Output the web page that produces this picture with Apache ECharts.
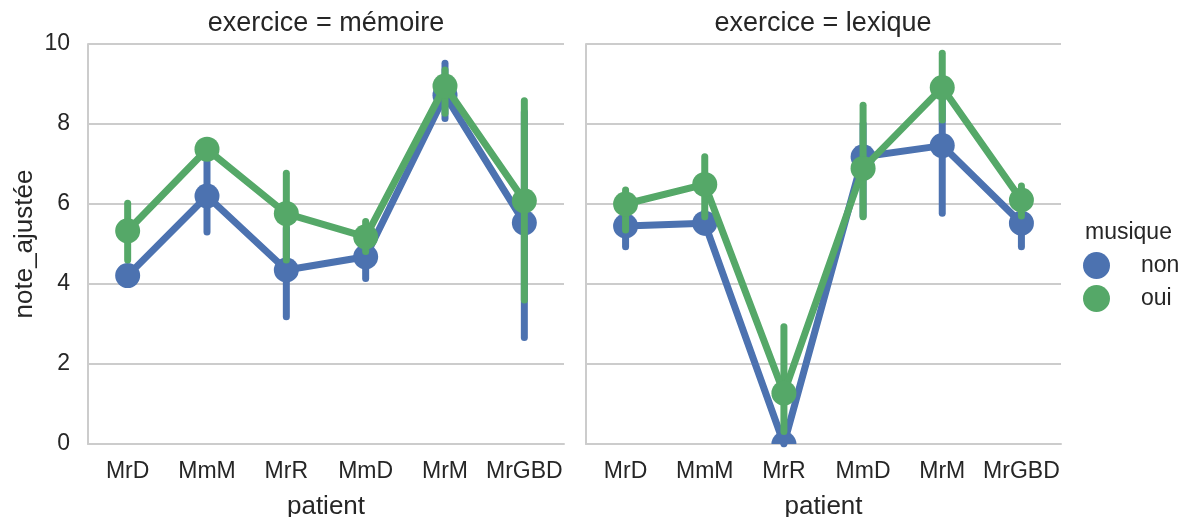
<!DOCTYPE html>
<html>
<head>
<meta charset="utf-8">
<title>note_ajustée par patient</title>
<script src="https://cdn.jsdelivr.net/npm/echarts@6/dist/echarts.min.js"></script>
<style>
  html, body { margin: 0; padding: 0; background: #ffffff; width: 100%; height: 100%; overflow: hidden; }
  #chart { position: absolute; left: 0; top: 0; width: 1183px; height: 517px; }
</style>
</head>
<body>
<div id="chart"></div>
<script>
// Patients on the x axis of both panels
const patients = ['MrD', 'MmM', 'MrR', 'MmD', 'MrM', 'MrGBD'];
const yTicks = [0, 2, 4, 6, 8, 10];

// exercice = mémoire : means and confidence interval bounds
const memoireNon     = [4.21, 6.20, 4.35, 4.68, 8.72, 5.53];
const memoireNonLow  = [4.00, 5.30, 3.18, 4.14, 8.14, 2.66];
const memoireNonHigh = [4.40, 7.10, 5.40, 5.20, 9.52, 8.30];
const memoireOui     = [5.33, 7.37, 5.76, 5.18, 8.95, 6.08];
const memoireOuiLow  = [4.60, 7.20, 4.60, 4.81, 8.27, 3.60];
const memoireOuiHigh = [6.02, 7.50, 6.77, 5.56, 9.35, 8.58];

// exercice = lexique : means and confidence interval bounds
const lexiqueNon     = [5.45, 5.52, 0.00, 7.18, 7.46, 5.52];
const lexiqueNonLow  = [4.93, 5.30, 0.00, 5.70, 5.77, 4.93];
const lexiqueNonHigh = [5.90, 5.80, 0.00, 8.00, 9.00, 6.00];
const lexiqueOui     = [6.00, 6.49, 1.27, 6.89, 8.91, 6.10];
const lexiqueOuiLow  = [5.35, 5.68, 0.31, 5.68, 8.10, 5.70];
const lexiqueOuiHigh = [6.35, 7.18, 2.93, 8.47, 9.77, 6.45];

const panelTitles = ['exercice = mémoire', 'exercice = lexique'];
const hueNames = ['non', 'oui'];

const BLUE = '#4C72B0';
const GREEN = '#55A868';
const TEXT = '#262626';
const GRID = '#cccccc';
const FONT = '"Liberation Sans", Arial, sans-serif';

const chart = echarts.init(document.getElementById('chart'), null, { renderer: 'canvas', width: 1183, height: 517 });

function errorBars(name, idx, lo, hi, color, z) {
  return {
    name, type: 'custom', xAxisIndex: idx, yAxisIndex: idx, z, clip: true,
    data: patients.map((p, i) => [i, lo[i], hi[i]]),
    renderItem: (params, api) => {
      const a = api.coord([api.value(0), api.value(1)]);
      const b = api.coord([api.value(0), api.value(2)]);
      return {
        type: 'line',
        shape: { x1: a[0], y1: a[1], x2: b[0], y2: b[1] },
        style: { stroke: color, lineWidth: 7, lineCap: 'round' }
      };
    }
  };
}

function meanLine(name, idx, values, color, z) {
  return {
    name, type: 'line', xAxisIndex: idx, yAxisIndex: idx, z, clip: true,
    data: values, symbol: 'none', silent: true,
    lineStyle: { color, width: 7, cap: 'round', join: 'round' },
    itemStyle: { color }
  };
}

function meanPoints(name, idx, values, color, z) {
  return {
    name, type: 'custom', xAxisIndex: idx, yAxisIndex: idx, z, clip: true,
    data: values.map((v, i) => [i, v]),
    renderItem: (params, api) => {
      const c = api.coord([api.value(0), api.value(1)]);
      return { type: 'circle', shape: { cx: c[0], cy: c[1], r: 12.5 }, style: { fill: color } };
    }
  };
}

function xAxisDef(gridIndex) {
  return {
    type: 'category', gridIndex, data: patients, boundaryGap: true,
    name: 'patient', nameLocation: 'middle', nameGap: 50,
    nameTextStyle: { fontSize: 26, color: TEXT, fontFamily: FONT },
    axisLine: { show: true, lineStyle: { color: GRID, width: 2 } },
    axisTick: { show: false },
    axisLabel: { fontSize: 23, color: TEXT, fontFamily: FONT, margin: 16, interval: 0 },
    splitLine: { show: false }
  };
}

function yAxisDef(gridIndex, withLabels) {
  return {
    type: 'value', gridIndex, min: yTicks[0], max: yTicks[yTicks.length - 1], interval: 2,
    name: withLabels ? 'note_ajustée' : '', nameLocation: 'middle', nameRotate: 90, nameGap: 50,
    nameTextStyle: { fontSize: 26, color: TEXT, fontFamily: FONT },
    axisLine: { show: true, lineStyle: { color: GRID, width: 2 } },
    axisTick: { show: false },
    axisLabel: { show: withLabels, fontSize: 23, color: TEXT, fontFamily: FONT, margin: 18 },
    splitLine: { show: true, lineStyle: { color: GRID, width: 2 } }
  };
}

const option = {
  animation: false,
  backgroundColor: '#ffffff',
  textStyle: { fontFamily: FONT },
  title: [
    { text: panelTitles[0], left: 326, top: 10, textAlign: 'center', padding: 0,
      textStyle: { fontSize: 27, fontWeight: 'normal', color: TEXT, fontFamily: FONT } },
    { text: panelTitles[1], left: 823, top: 10, textAlign: 'center', padding: 0,
      textStyle: { fontSize: 27, fontWeight: 'normal', color: TEXT, fontFamily: FONT } },
    { text: 'musique', left: 1085, top: 221, padding: 0,
      textStyle: { fontSize: 23, fontWeight: 'normal', color: TEXT, fontFamily: FONT } }
  ],
  legend: {
    orient: 'vertical', left: 1083, top: 252, padding: 0,
    itemWidth: 27, itemHeight: 27, itemGap: 6,
    data: [
      { name: hueNames[0], icon: 'circle', itemStyle: { color: BLUE } },
      { name: hueNames[1], icon: 'circle', itemStyle: { color: GREEN } }
    ],
    textStyle: { fontSize: 23, color: TEXT, fontFamily: FONT, padding: [0, 0, 0, 26] },
    selectedMode: false
  },
  grid: [
    { left: 88, top: 44, width: 476, height: 400, outerBoundsMode: 'none', containLabel: false },
    { left: 586, top: 44, width: 475, height: 400, outerBoundsMode: 'none', containLabel: false }
  ],
  xAxis: [xAxisDef(0), xAxisDef(1)],
  yAxis: [yAxisDef(0, true), yAxisDef(1, false)],
  series: [
    // mémoire panel
    errorBars(hueNames[0], 0, memoireNonLow, memoireNonHigh, BLUE, 1),
    meanLine(hueNames[0], 0, memoireNon, BLUE, 2),
    meanPoints(hueNames[0], 0, memoireNon, BLUE, 3),
    errorBars(hueNames[1], 0, memoireOuiLow, memoireOuiHigh, GREEN, 4),
    meanLine(hueNames[1], 0, memoireOui, GREEN, 5),
    meanPoints(hueNames[1], 0, memoireOui, GREEN, 6),
    // lexique panel
    errorBars(hueNames[0], 1, lexiqueNonLow, lexiqueNonHigh, BLUE, 1),
    meanLine(hueNames[0], 1, lexiqueNon, BLUE, 2),
    meanPoints(hueNames[0], 1, lexiqueNon, BLUE, 3),
    errorBars(hueNames[1], 1, lexiqueOuiLow, lexiqueOuiHigh, GREEN, 4),
    meanLine(hueNames[1], 1, lexiqueOui, GREEN, 5),
    meanPoints(hueNames[1], 1, lexiqueOui, GREEN, 6)
  ]
};

chart.setOption(option);
</script>
</body>
</html>
